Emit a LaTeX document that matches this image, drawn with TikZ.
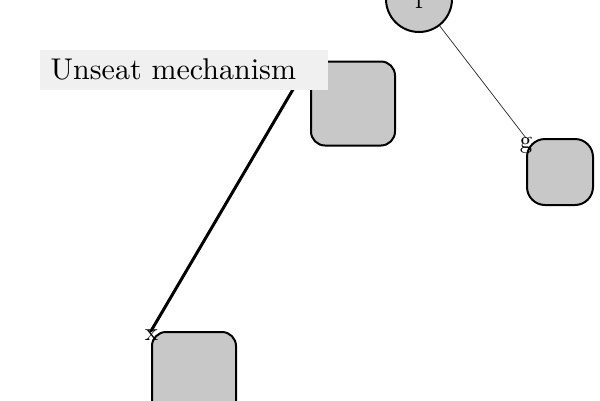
\documentclass[tikz,border=0pt]{standalone}
\usepackage{fontspec}
\setmainfont{lmroman10-regular.otf}
\begin{document}
\begin{tikzpicture}[x=1pt,y=-1pt,
  sq/.style={draw=black,line width=2pt,fill=sqgray,rounded corners=14pt,minimum size=84pt,inner sep=0pt},
  circ/.style={draw=black,line width=2pt,fill=sqgray,circle,minimum size=66pt,inner sep=0pt,font=\fontsize{26}{30}\selectfont},
  lbltxt/.style={inner sep=0pt,font=\fontsize{25}{30}\selectfont,anchor=base},
  bigtxt/.style={inner sep=0pt,font=\fontsize{30}{36}\selectfont,anchor=base west},
  labelbox/.style={fill=boxgray,minimum width=288pt,minimum height=40pt,inner sep=0pt,anchor=north west}]
\definecolor{sqgray}{RGB}{200,200,200}
\definecolor{boxgray}{RGB}{240,240,240}
\useasboundingbox (0,0) rectangle (600,400);
\node[sq] (s1) at (353,103.5) {};
\node[sq,minimum size=66pt,rounded corners=18pt] (sg) at (560,172) {};
\node[sq] (sx) at (194,374) {};
\node[circ] (f) at (419,-1) {f};
\draw[line width=3pt,line cap=round] (s1.north west) -- (sx.north west);
\draw[line width=0.7pt,draw=black!85] (f) -- (sg.north west);
\node[lbltxt] (lg) at (526,148) {g};
\node[lbltxt] (lx) at (151.5,340) {x};
\node[labelbox] (box) at (40,50) {};
\node[bigtxt] (t) at (50.5,79) {Unseat mechanism};
\end{tikzpicture}
\end{document}
